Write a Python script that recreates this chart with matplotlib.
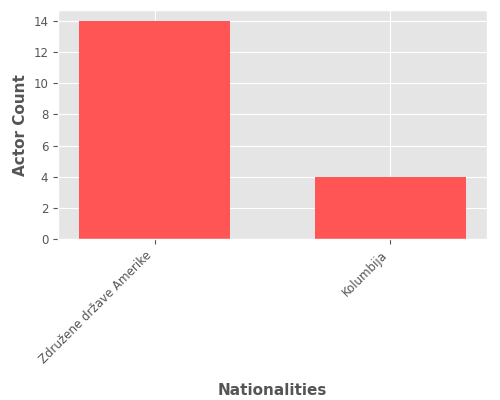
import matplotlib
matplotlib.use('Agg')
import matplotlib.pyplot as plt

nationalities = ['Združene države Amerike', 'Kolumbija']
actor_counts = [14, 4]

plt.style.use('ggplot')
fig = plt.figure(figsize=(5, 4), dpi=100)
ax = fig.add_axes([0.116, 0.402, 0.858, 0.573])

ax.bar(range(len(nationalities)), actor_counts, width=0.64, color='#ff5555')
ax.set_xlim(-0.41, 1.41)
ax.set_ylim(0, 14.7)
ax.set_xticks(range(len(nationalities)))
ax.set_xticklabels(nationalities, rotation=45, ha='right', fontsize=8.5, color='#555555')
ax.tick_params(axis='y', labelsize=8.5, labelcolor='#555555')
ax.set_ylabel('Actor Count', fontsize=11, color='#555555', fontweight='bold')
ax.set_xlabel('Nationalities', fontsize=11, color='#555555', fontweight='bold', labelpad=12)

fig.savefig('out.png', dpi=100)
